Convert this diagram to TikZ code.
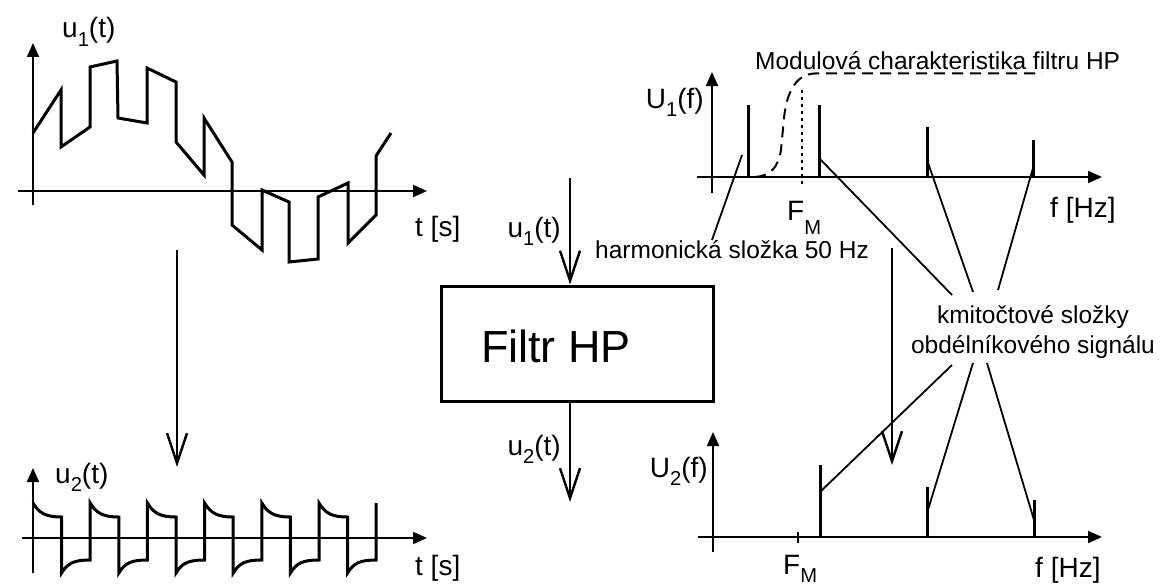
\documentclass[tikz,border=0pt]{standalone}
\usepackage{fontspec}
\setmainfont{Liberation Sans}
\usepackage{graphicx}
\usetikzlibrary{arrows.meta}
\newcommand\lsub[2][0.3em]{\raisebox{-#1}{\scalebox{0.72}{#2}}}
\tikzset{
  ax/.style={line width=2pt,-{Triangle[length=14pt,width=12pt]}},
  sig/.style={line width=3pt,line join=miter},
  spec/.style={line width=3pt},
  lead/.style={line width=1.8pt},
  flow/.style={line width=2.4pt,-{Straight Barb[length=30pt,width=20pt]}},
  lab/.style={font=\fontsize{28}{30}\selectfont, inner sep=0pt},
  note/.style={font=\fontsize{24.5}{30}\selectfont, inner sep=0pt},
}
\begin{document}
\begin{tikzpicture}[x=1pt,y=-1pt]
\fill[white] (0,0) rectangle (1170,586);
\useasboundingbox (0,0) rectangle (1170,586);

% ---------- top-left: u1(t)
\coordinate (a1b) at (33,205); \coordinate (a1t) at (33,43);
\coordinate (a1l) at (18,191); \coordinate (a1r) at (427,191);
\draw[ax] (a1b) -- (a1t);
\draw[ax] (a1l) -- (a1r);
\node[lab, anchor=base west] (u1lab) at (62,38) {u\lsub{1}(t)};
\node[lab, anchor=base west] (t1lab) at (415,236) {t [s]};
\draw[sig] (33,133) -- (61,90) -- (61,147) -- (90,127) -- (90,67) -- (117,61)
  -- (118,118) -- (147,123) -- (147,68) -- (176,82) -- (176,142) -- (204,175)
  -- (204,118) -- (232,162) -- (232,225) -- (262,250) -- (262,190) -- (289,202)
  -- (289,262) -- (318,259) -- (318,197) -- (348,183) -- (348,243) -- (376,215)
  -- (376,156) -- (391,133);

% arrow down on the left
\coordinate (l1) at (177,250); \coordinate (l2) at (177,467);
\draw[flow] (l1) -- (l2);

% ---------- bottom-left: u2(t)
\coordinate (a2b) at (33,573); \coordinate (a2t) at (33,468);
\coordinate (a2l) at (22,538); \coordinate (a2r) at (427,538);
\draw[ax] (a2b) -- (a2t);
\draw[ax] (a2l) -- (a2r);
\node[lab, anchor=base west] (u2lab) at (55,483) {u\lsub{2}(t)};
\node[lab, anchor=base west] (t2lab) at (415,575) {t [s]};
\draw[sig] (33,503)
  .. controls +(6,10) and +(-16,0) .. ++(28.6,14) -- ++(0,56)
  .. controls +(6,-10) and +(-16,0) .. ++(28.6,-13) -- ++(0,-57)
  .. controls +(6,10) and +(-16,0) .. ++(28.6,14) -- ++(0,56)
  .. controls +(6,-10) and +(-16,0) .. ++(28.6,-13) -- ++(0,-57)
  .. controls +(6,10) and +(-16,0) .. ++(28.6,14) -- ++(0,56)
  .. controls +(6,-10) and +(-16,0) .. ++(28.6,-13) -- ++(0,-57)
  .. controls +(6,10) and +(-16,0) .. ++(28.6,14) -- ++(0,56)
  .. controls +(6,-10) and +(-16,0) .. ++(28.6,-13) -- ++(0,-57)
  .. controls +(6,10) and +(-16,0) .. ++(28.6,14) -- ++(0,56)
  .. controls +(6,-10) and +(-16,0) .. ++(28.6,-13) -- ++(0,-57)
  .. controls +(6,10) and +(-16,0) .. ++(28.6,14) -- ++(0,56)
  .. controls +(6,-10) and +(-16,0) .. ++(28.6,-13) -- ++(0,-57);

% ---------- middle: filter block
\node[draw, line width=3pt, minimum width=272pt, minimum height=115pt, inner sep=0pt] (filt) at (577,343.5) {};
\node[anchor=base, inner sep=0pt, font=\fontsize{45}{50}\selectfont] (ftxt) at (556,362) {Filtr HP};
\coordinate (in) at (570,178); \coordinate (out) at (570,502);
\draw[flow] (in) -- (in |- filt.north);
\draw[flow] (out |- filt.south) -- (out);
\node[lab, anchor=base east] (inlab) at (561,237) {u\lsub{1}(t)};
\node[lab, anchor=base east] (outlab) at (561,455) {u\lsub{2}(t)};

% ---------- top-right: U1(f)
\coordinate (b1b) at (712,193); \coordinate (b1t) at (712,72);
\coordinate (b1l) at (697,177); \coordinate (b1r) at (1102,177);
\draw[ax] (b1b) -- (b1t);
\draw[ax] (b1l) -- (b1r);
\node[lab, anchor=base east] (U1lab) at (704,108) {U\lsub{1}(f)};
\node[lab, anchor=base west] (f1lab) at (1050,217) {f [Hz]};
\node[lab, anchor=base west] (FM1) at (787,220) {F\lsub[0.5em]{M}};
\node[note, anchor=base west] (title) at (755,70) {Modulová charakteristika filtru HP};
\coordinate (s0) at (748,177); \coordinate (s0t) at (748,105);
\coordinate (s1) at (819,177); \coordinate (s1t) at (819,105);
\coordinate (s2) at (927,177); \coordinate (s2t) at (927,127);
\coordinate (s3) at (1033,177); \coordinate (s3t) at (1033,140);
\draw[spec] (s0) -- (s0t);
\draw[spec] (s1) -- (s1t);
\draw[spec] (s2) -- (s2t);
\draw[spec] (s3) -- (s3t);
\draw[line width=2pt, dash pattern=on 11pt off 7pt]
  (755,177) .. controls (770,176) and (778,168) .. (781,150) -- (784,118)
  .. controls (787,90) and (797,74) .. (815,73.5) -- (1042,73.5);
\draw[line width=2.2pt, dash pattern=on 2.5pt off 4.5pt] (802,90) -- (802,187);

% harmonic label
\node[note, anchor=base west] (harm) at (595,258) {harmonická složka 50 Hz};
\coordinate (hl1) at (712,240); \coordinate (hl2) at (742,155);
\draw[lead] (hl1) -- (hl2);

% long arrow right
\coordinate (r1) at (892,248); \coordinate (r2) at (892,465);
\draw[flow] (r1) -- (r2);

% components label
\node[note, align=center, anchor=base] (komp) at (1033,353) {kmitočtové složky\\[0pt]obdélníkového signálu};
\coordinate (k1) at (952,295); \coordinate (k2) at (973,292); \coordinate (k3) at (998,290);
\coordinate (k4) at (952,365); \coordinate (k5) at (973,363); \coordinate (k6) at (987,363);
\draw[lead] (819,158) -- (k1);
\draw[lead] (927,160) -- (k2);
\draw[lead] (1033,168) -- (k3);

% ---------- bottom-right: U2(f)
\coordinate (b2b) at (713,552); \coordinate (b2t) at (713,432);
\coordinate (b2l) at (698,537); \coordinate (b2r) at (1102,537);
\draw[ax] (b2b) -- (b2t);
\draw[ax] (b2l) -- (b2r);
\draw[line width=2pt] (798,532) -- (798,543);
\node[lab, anchor=base east] (U2lab) at (708,477) {U\lsub{2}(f)};
\node[lab, anchor=base west] (f2lab) at (1035,577) {f [Hz]};
\node[lab, anchor=base west] (FM2) at (783,574) {F\lsub[0.3em]{M}};
\coordinate (q1) at (820,537); \coordinate (q1t) at (820,465);
\coordinate (q2) at (927,537); \coordinate (q2t) at (927,487);
\coordinate (q3) at (1034,537); \coordinate (q3t) at (1034,500);
\draw[spec] (q1) -- (q1t);
\draw[spec] (q2) -- (q2t);
\draw[spec] (q3) -- (q3t);
\draw[lead] (820,492) -- (k4);
\draw[lead] (927,513) -- (k5);
\draw[lead] (1034,520) -- (k6);
\end{tikzpicture}
\end{document}
